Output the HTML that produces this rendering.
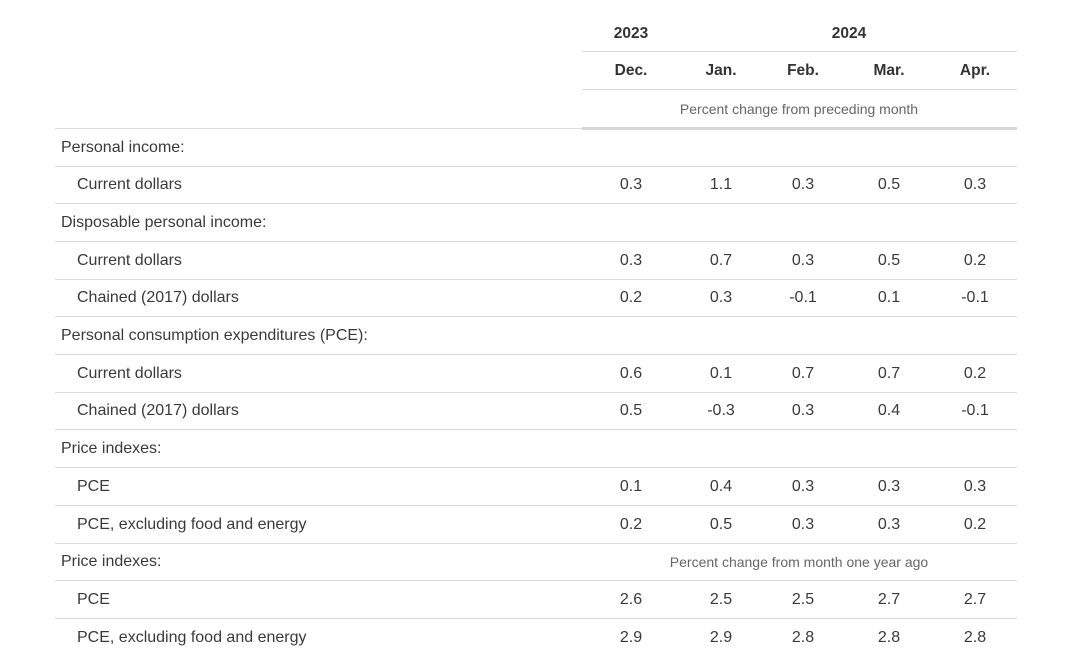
<!DOCTYPE html>
<html><head><meta charset="utf-8"><style>
body{margin:0;width:1068px;height:669px;background:#fff;font-family:"Liberation Sans",sans-serif;color:#3a3a3a;position:relative;overflow:hidden}
.t{position:absolute;white-space:nowrap;line-height:20px;transform:translateY(-9px)}
.c{transform:translate(-50%,-9px)}
.h{font-weight:bold;font-size:15.5px;color:#333}
.l{position:absolute;height:1px;background:#dcdcdc}
.v{font-size:16px}
</style></head><body>
<div class="t c h" style="left:631px;top:33px">2023</div>
<div class="t c h" style="left:849px;top:33px">2024</div>
<div class="l" style="left:582px;width:435px;top:51px"></div>
<div class="t c h" style="left:631px;top:70px">Dec.</div>
<div class="t c h" style="left:721px;top:70px">Jan.</div>
<div class="t c h" style="left:803px;top:70px">Feb.</div>
<div class="t c h" style="left:889px;top:70px">Mar.</div>
<div class="t c h" style="left:975px;top:70px">Apr.</div>
<div class="l" style="left:582px;width:435px;top:89px"></div>
<div class="t c" style="left:799px;top:108px;font-size:14px;color:#666">Percent change from preceding month</div>
<div class="l" style="left:55px;width:527px;top:128px"></div>
<div class="l" style="left:582px;width:435px;top:127px;height:3px;background:#d6d6d6"></div>
<div id="rows"></div>
<script>
var R=[["Personal income:",0],["Current dollars",1,["0.3","1.1","0.3","0.5","0.3"]],["Disposable personal income:",0],["Current dollars",1,["0.3","0.7","0.3","0.5","0.2"]],["Chained (2017) dollars",1,["0.2","0.3","-0.1","0.1","-0.1"]],["Personal consumption expenditures (PCE):",0],["Current dollars",1,["0.6","0.1","0.7","0.7","0.2"]],["Chained (2017) dollars",1,["0.5","-0.3","0.3","0.4","-0.1"]],["Price indexes:",0],["PCE",1,["0.1","0.4","0.3","0.3","0.3"]],["PCE, excluding food and energy",1,["0.2","0.5","0.3","0.3","0.2"]],["Price indexes:",0,null,1],["PCE",1,["2.6","2.5","2.5","2.7","2.7"]],["PCE, excluding food and energy",1,["2.9","2.9","2.8","2.8","2.8"]]];
var X=[631,721,803,889,975],h="",y0=146.5,s=37.7;
R.forEach(function(r,i){var y=y0+i*s;
h+='<div class="t v" style="left:'+(r[1]?77:61)+'px;top:'+y+'px">'+r[0]+'</div>';
if(r[2])r[2].forEach(function(v,j){h+='<div class="t c v" style="left:'+X[j]+'px;top:'+y+'px">'+v+'</div>'});
if(r[3])h+='<div class="t c" style="left:799px;top:'+y+'px;font-size:14px;color:#666">Percent change from month one year ago</div>';
if(i<R.length-1)h+='<div class="l" style="left:55px;width:962px;top:'+Math.round(y+19)+'px"></div>';});
document.getElementById("rows").innerHTML=h;
</script>
</body></html>
